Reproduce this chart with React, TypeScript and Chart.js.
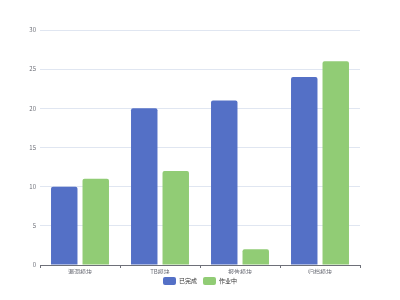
import React, { useEffect, useRef } from "react";
import { Chart, registerables } from "chart.js";

Chart.register(...registerables);

const categories = ["漏洞模块", "TB模块", "报告模块", "归档模块"];
const completed = [10, 20, 21, 24];
const inProgress = [11, 12, 2, 26];
const seriesNames = ["已完成", "作业中"];

const legendShift = {
  id: "legendShift",
  afterLayout(chart: any) {
    if (chart.legend) {
      chart.legend.top -= 3;
      chart.legend.bottom -= 3;
    }
  },
};

export default function App() {
  const ref = useRef<HTMLCanvasElement | null>(null);
  useEffect(() => {
    if (!ref.current) return;
    const font = "'Noto Sans CJK SC', 'Noto Sans', sans-serif";
    const chart = new Chart(ref.current, {
      type: "bar",
      data: {
        labels: categories,
        datasets: [
          {
            label: seriesNames[0],
            data: completed,
            backgroundColor: "#5470c6",
            borderRadius: 2,
            borderSkipped: "bottom",
          },
          {
            label: seriesNames[1],
            data: inProgress,
            backgroundColor: "#91cc75",
            borderRadius: 2,
            borderSkipped: "bottom",
          },
        ],
      },
      options: {
        animation: false,
        responsive: false,
        maintainAspectRatio: false,
        layout: { padding: { top: 30, right: 0, bottom: 2, left: 0 } },
        datasets: { bar: { categoryPercentage: 0.7875, barPercentage: 0.84 } },
        scales: {
          x: {
            grid: {
              offset: true,
              drawOnChartArea: false,
              drawTicks: true,
              tickLength: 3,
              color: "#6e7079",
            },
            border: { color: "#6e7079" },
            ticks: { color: "#6e7079", font: { family: font, size: 6 }, padding: 0 },
            afterFit: (s: any) => {
              s.height = 9;
            },
          },
          y: {
            min: 0,
            max: 30,
            ticks: { stepSize: 5, color: "#6e7079", font: { family: font, size: 6 }, padding: 4 },
            grid: { color: "#e0e6f1", drawTicks: false },
            border: { display: false },
            afterFit: (s: any) => {
              s.width = 40;
            },
          },
          yRight: {
            position: "right",
            min: 0,
            max: 30,
            ticks: { display: false },
            grid: { display: false, drawTicks: false },
            border: { display: false },
            afterFit: (s: any) => {
              s.width = 40;
            },
          },
        },
        plugins: {
          legend: {
            position: "bottom",
            labels: {
              boxWidth: 13,
              boxHeight: 8,
              useBorderRadius: true,
              borderRadius: 2,
              color: "#333",
              font: { family: font, size: 6 },
              padding: 6,
            },
          },
          tooltip: { enabled: false },
        },
      },
      plugins: [legendShift],
    });
    return () => chart.destroy();
  }, []);
  return (
    <div style={{ position: "fixed", left: 0, top: 0, width: 400, height: 300, background: "#fff" }}>
      <canvas ref={ref} width={400} height={300} />
    </div>
  );
}
